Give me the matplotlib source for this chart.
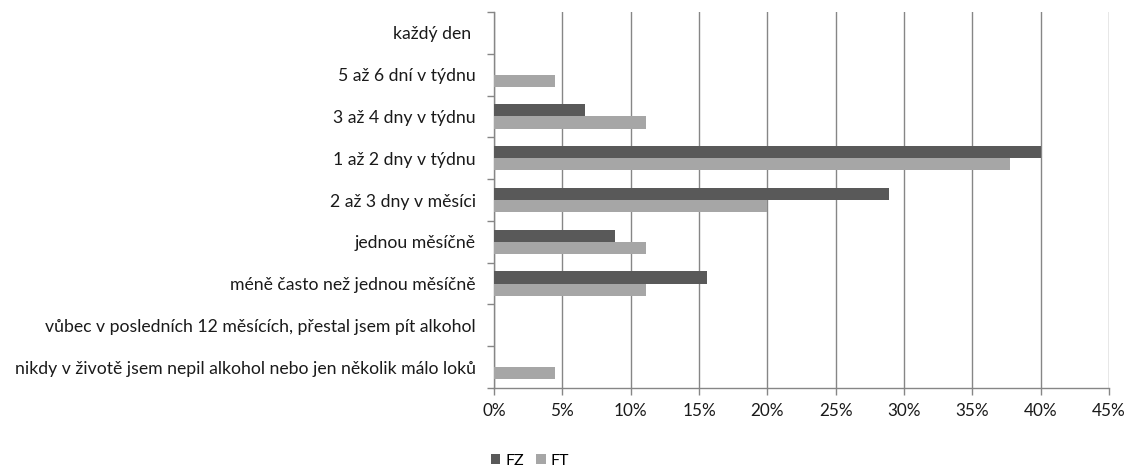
import matplotlib
matplotlib.use("Agg")
import matplotlib.pyplot as plt
import numpy as np
from matplotlib.ticker import FixedLocator, PercentFormatter

categories = [
    "každý den ",
    "5 až 6 dní v týdnu",
    "3 až 4 dny v týdnu",
    "1 až 2 dny v týdnu",
    "2 až 3 dny v měsíci",
    "jednou měsíčně",
    "méně často než jednou měsíčně",
    "vůbec v posledních 12 měsících, přestal jsem pít alkohol",
    "nikdy v životě jsem nepil alkohol nebo jen několik málo loků",
]
fz = [0.0, 0.0, 6.67, 40.0, 28.89, 8.89, 15.56, 0.0, 0.0]
ft = [0.0, 4.44, 11.11, 37.78, 20.0, 11.11, 11.11, 0.0, 4.44]
series_names = ["FZ", "FT"]
x_ticks = [0, 5, 10, 15, 20, 25, 30, 35, 40, 45]

plt.rcParams["font.family"] = ["Lato", "DejaVu Sans"]

fig = plt.figure(figsize=(11.27, 4.67), dpi=100)
ax = fig.add_axes([494 / 1127, 1 - 388 / 467, (1109 - 494) / 1127, (388 - 12) / 467])

n = len(categories)
y = np.arange(n)
h = 0.29
dark = "#595959"
light = "#A6A6A6"
ax.barh(y - h / 2, fz, height=h, color=dark, linewidth=0,
        label=series_names[0], zorder=3)
ax.barh(y + h / 2, ft, height=h, color=light, linewidth=0,
        label=series_names[1], zorder=3)

ax.set_ylim(n - 0.5, -0.5)
ax.set_xlim(0, 45)
ax.set_yticks(y)
ax.set_yticklabels(categories, fontsize=12.7, color="#1a1a1a")
ax.yaxis.set_minor_locator(FixedLocator(np.arange(-0.5, n, 1.0)))
ax.tick_params(axis="y", which="major", length=0, pad=13)
ax.tick_params(axis="y", which="minor", length=5, color="#868686", width=1)

ax.set_xticks(x_ticks)
ax.xaxis.set_major_formatter(PercentFormatter(decimals=0))
ax.tick_params(axis="x", which="major", length=5, color="#868686", width=1,
               labelsize=12.3, labelcolor="#1a1a1a", pad=6)

ax.grid(axis="x", color="#868686", linewidth=1, zorder=0)
for side in ["top", "right"]:
    ax.spines[side].set_visible(False)
for side in ["left", "bottom"]:
    ax.spines[side].set_color("#868686")
    ax.spines[side].set_linewidth(1)

fig.legend(loc="center", bbox_to_anchor=(530 / 1127, 1 - 461 / 467), ncol=2,
           frameon=False, fontsize=11.5, handlelength=0.6, handleheight=0.6,
           handletextpad=0.3, columnspacing=0.8, borderaxespad=0)

fig.savefig("out.png", dpi=100)
